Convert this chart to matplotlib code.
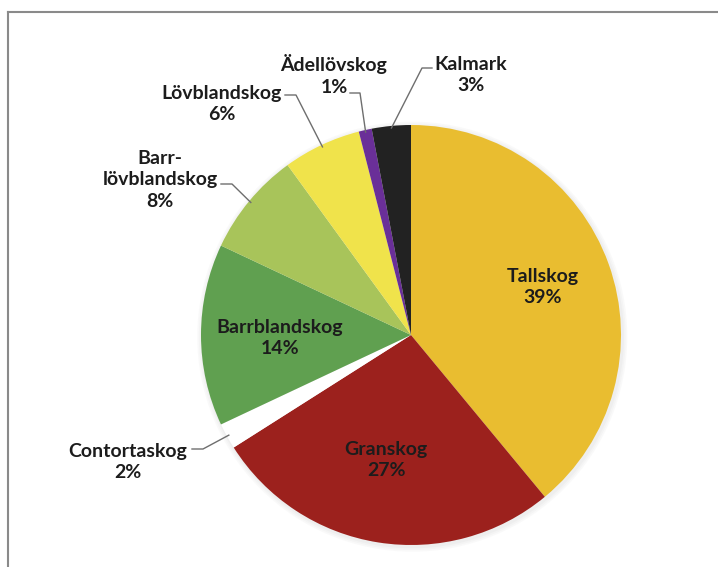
import numpy as np
import matplotlib.pyplot as plt
from matplotlib.lines import Line2D

# Skogstyper, andel av arealen (%)
kategorier = ['Tallskog', 'Granskog', 'Contortaskog', 'Barrblandskog',
              'Barr-\nlövblandskog', 'Lövblandskog', 'Ädellövskog', 'Kalmark']
andelar = [39, 27, 2, 14, 8, 6, 1, 3]
farger = ['#E9BD30', '#9C211D', '#FFFFFF', '#60A050',
          '#A8C45A', '#F0E34B', '#6A2F98', '#222222']

W, H = 718, 567
CX, CY, R = 411, 335, 210   # pajens mitt och radie i pixlar

plt.rcParams['font.family'] = ['Lato', 'DejaVu Sans']

fig = plt.figure(figsize=(W / 100, H / 100), dpi=100)
ax = fig.add_axes([0, 0, 1, 1])


def px(x, y):
    # pixelposition -> datakoordinater
    return (x - CX) / R, (CY - y) / R


# svag skugga runt pajen
for i, a in enumerate([0.05, 0.05, 0.06]):
    ax.add_patch(plt.Circle((0.006, -0.008), 1.0 + 0.008 * (3 - i),
                            color='#9a9a9a', alpha=a, lw=0, zorder=0))

wedges, _ = ax.pie(andelar, colors=farger, startangle=90, counterclock=False,
                   radius=1.0, center=(0, 0), frame=True,
                   wedgeprops=dict(linewidth=0))
ax.set_xlim(-CX / R, (W - CX) / R)
ax.set_ylim((CY - H) / R, CY / R)
ax.set_aspect('equal')
ax.axis('off')

fs = 14
txt = dict(fontsize=fs, fontweight='bold', color='#1c1c1c',
           ha='center', va='center', linespacing=1.3)


def etikett(i):
    return f'{kategorier[i]}\n{andelar[i]}%'


# etiketter inne i de stora sektorerna
inne = {0: (543, 287), 1: (386, 460), 3: (280, 338)}
for i, (x, y) in inne.items():
    ax.text(*px(x, y), etikett(i), **txt)

# etiketter utanför med hänvisningslinjer: (textmitt, linjestart, knäpunkt)
ute = {
    2: ((128, 462), (192, 449), (203, 449)),
    4: ((160, 180), (221, 184), (232, 184)),
    5: ((222, 104), (285, 95), (296, 95)),
    6: ((334, 75), (350, 93), (360, 93)),
    7: ((471, 75), (432, 68), (422, 68)),
}
kum = np.cumsum([0] + andelar)
for i, (mitt, start, kna) in ute.items():
    ax.text(*px(*mitt), etikett(i), **txt)
    mid = (kum[i] + kum[i + 1]) / 2 / sum(andelar) * 2 * np.pi
    ex, ey = np.sin(mid) * 0.99, np.cos(mid) * 0.99
    xs = [px(*start)[0], px(*kna)[0], ex]
    ys = [px(*start)[1], px(*kna)[1], ey]
    ax.plot(xs, ys, color='#6e6e6e', lw=1.0, zorder=5)

# ram runt diagrammet
fig.add_artist(Line2D([8 / W, 1], [1 - 12 / H, 1 - 12 / H],
                      transform=fig.transFigure, color='#8a8a8a', lw=1.5))
fig.add_artist(Line2D([8 / W, 8 / W], [0, 1 - 12 / H],
                      transform=fig.transFigure, color='#8a8a8a', lw=1.5))

fig.savefig('out.png', dpi=100, facecolor='white')
